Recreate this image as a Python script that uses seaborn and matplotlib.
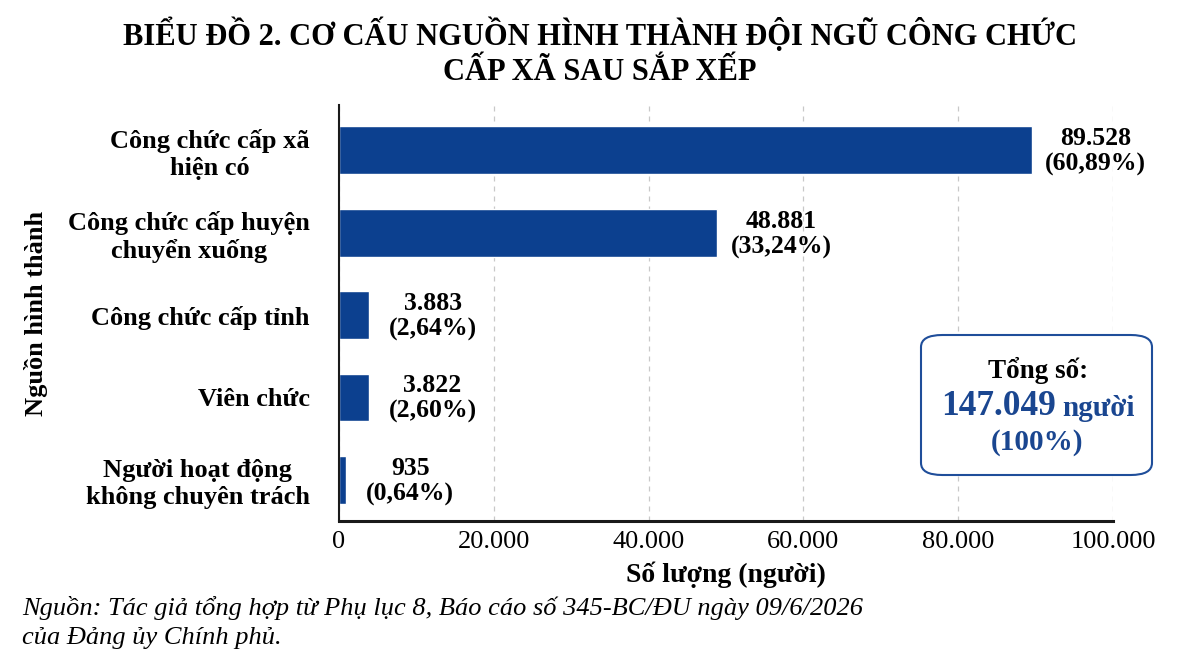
import pandas as pd
import matplotlib
matplotlib.use('Agg')
from matplotlib import pyplot as plt
from matplotlib.patches import FancyBboxPatch
import seaborn as sns

# data
categories = ['Công chức cấp xã\nhiện có', 'Công chức cấp huyện\nchuyển xuống',
              'Công chức cấp tỉnh', 'Viên chức', 'Người hoạt động\nkhông chuyên trách']
counts = [89528, 48881, 3883, 3822, 935]
count_labels = ['89.528', '48.881', '3.883', '3.822', '935']
pct_labels = ['(60,89%)', '(33,24%)', '(2,64%)', '(2,60%)', '(0,64%)']
xticks = [0, 20000, 40000, 60000, 80000, 100000]
xtick_labels = ['0', '20.000', '40.000', '60.000', '80.000', '100.000']
total_label = '147.049'

sns.set_style('white')
plt.rcParams['font.family'] = ['Liberation Serif', 'DejaVu Serif']
plt.rcParams['text.color'] = 'black'
plt.rcParams['axes.labelcolor'] = 'black'
plt.rcParams['xtick.color'] = 'black'
plt.rcParams['ytick.color'] = 'black'

bar_color = '#0c408f'
blue_txt = '#1a4690'

df = pd.DataFrame({'Nguồn': categories, 'Số lượng': counts})

fig = plt.figure(figsize=(11.85, 6.69), dpi=100)
ax = fig.add_axes([339/1185, 1 - 521/669, (1113-339)/1185, (521-105)/669])

sns.barplot(data=df, x='Số lượng', y='Nguồn', orient='h', color=bar_color,
            width=0.58, saturation=1, ax=ax)

ax.set_xlim(0, 100000)
ax.set_ylim(4.5, -0.55)
ax.set_xticks(xticks)
ax.set_xticklabels(xtick_labels, fontsize=19)
ax.tick_params(axis='y', labelsize=19, length=0, pad=21)
ax.tick_params(axis='x', length=0, pad=7)
for lab in ax.get_yticklabels():
    lab.set_fontweight('bold')
    lab.set_multialignment('center')
    lab.set_linespacing(1.18)

ax.xaxis.grid(True, linestyle=(0, (4, 4)), color='#c8c8c8', linewidth=0.9)
ax.set_axisbelow(True)
sns.despine(ax=ax, top=True, right=True)
ax.spines['left'].set_color('#1a1a1a')
ax.spines['bottom'].set_color('#1a1a1a')
ax.spines['left'].set_linewidth(1.5)
ax.spines['bottom'].set_linewidth(2.2)

ax.set_xlabel('Số lượng (người)', fontsize=20, fontweight='bold', labelpad=6)
ax.set_ylabel('Nguồn hình thành', fontsize=19, fontweight='bold')
ax.yaxis.set_label_coords(-0.376, 0.5)

for i, (v, c, p) in enumerate(zip(counts, count_labels, pct_labels)):
    ax.annotate(c + '\n' + p, xy=(v, i), xytext=(46, -1), textcoords='offset points',
                ha='center', va='center', fontsize=18.5, fontweight='bold',
                linespacing=1.15)

# title
fig.text(600/1185, 1 - 35/669, 'BIỂU ĐỒ 2. CƠ CẤU NGUỒN HÌNH THÀNH ĐỘI NGŨ CÔNG CHỨC',
         ha='center', va='center', fontsize=22, fontweight='bold')
fig.text(600/1185, 1 - 72/669, 'CẤP XÃ SAU SẮP XẾP',
         ha='center', va='center', fontsize=22, fontweight='bold')

# total box
box = FancyBboxPatch((921/1185, 1 - 475/669), (1152-921)/1185, (475-335)/669,
                     boxstyle='round,pad=0,rounding_size=0.018',
                     transform=fig.transFigure, facecolor='white',
                     edgecolor='#1f4e9a', linewidth=1.5, zorder=5)
fig.add_artist(box)
fig.text(1038/1185, 1 - 370/669, 'Tổng số:', ha='center', va='center',
         fontsize=19.5, fontweight='bold', zorder=6)
fig.text(1056/1185, 1 - 406/669, total_label, ha='right', va='center',
         fontsize=25.5, fontweight='bold', color=blue_txt, zorder=6)
fig.text(1062/1185, 1 - 408/669, 'người', ha='left', va='center',
         fontsize=21, fontweight='bold', color=blue_txt, zorder=6)
fig.text(1037/1185, 1 - 443/669, '(100%)', ha='center', va='center',
         fontsize=21, fontweight='bold', color=blue_txt, zorder=6)

# source note
fig.text(22/1185, 1 - 608/669,
         'Nguồn: Tác giả tổng hợp từ Phụ lục 8, Báo cáo số 345-BC/ĐU ngày 09/6/2026',
         ha='left', va='center', fontsize=19, fontstyle='italic')
fig.text(22/1185, 1 - 638/669, 'của Đảng ủy Chính phủ.',
         ha='left', va='center', fontsize=19, fontstyle='italic')

fig.savefig('out.png', dpi=100)
